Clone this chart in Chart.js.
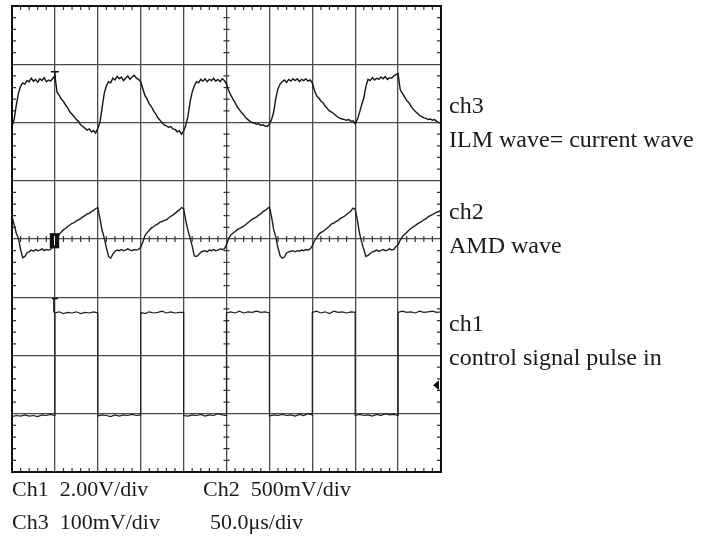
<!DOCTYPE html>
<html>
<head>
<meta charset="utf-8">
<script src="https://cdn.jsdelivr.net/npm/chart.js@4.4.0/dist/chart.umd.min.js"></script>
<style>
body { margin: 0; background: #fff; }
#wrap { position: relative; width: 702px; height: 536px; }
.lbl { position: absolute; font-family: "Liberation Serif", "DejaVu Serif", serif; color: #1a1a1a; white-space: pre; }
.r { font-size: 24px; line-height: 24px; }
.b { font-size: 22px; line-height: 22px; }
</style>
</head>
<body>
<div id="wrap">
  <canvas id="scope" width="702" height="536"></canvas>
  <div class="lbl r" style="left:449px;top:93px">ch3</div>
  <div class="lbl r" style="left:449px;top:127px">ILM wave= current wave</div>
  <div class="lbl r" style="left:449px;top:199px">ch2</div>
  <div class="lbl r" style="left:449px;top:233px">AMD wave</div>
  <div class="lbl r" style="left:449px;top:311px">ch1</div>
  <div class="lbl r" style="left:449px;top:345px">control signal pulse in</div>
  <div class="lbl b" style="left:12px;top:478px">Ch1  2.00V/div</div>
  <div class="lbl b" style="left:203px;top:478px">Ch2  500mV/div</div>
  <div class="lbl b" style="left:12px;top:511px">Ch3  100mV/div</div>
  <div class="lbl b" style="left:210px;top:511px">50.0μs/div</div>
</div>
<script>
// time base in divisions (50 us/div), shared by ch2 and ch3
const timeDiv = [
  0,0.05,0.1,0.15,0.2,0.25,0.3,0.35,0.4,0.45,0.5,0.55,0.6,0.65,0.7,0.75,0.8,0.85,0.9,0.95,
  1,1.05,1.1,1.15,1.2,1.25,1.3,1.35,1.4,1.45,1.5,1.55,1.6,1.65,1.7,1.75,1.8,1.85,1.9,1.95,
  2,2.05,2.1,2.15,2.2,2.25,2.3,2.35,2.4,2.45,2.5,2.55,2.6,2.65,2.7,2.75,2.8,2.85,2.9,2.95,
  3,3.05,3.1,3.15,3.2,3.25,3.3,3.35,3.4,3.45,3.5,3.55,3.6,3.65,3.7,3.75,3.8,3.85,3.9,3.95,
  4,4.05,4.1,4.15,4.2,4.25,4.3,4.35,4.4,4.45,4.5,4.55,4.6,4.65,4.7,4.75,4.8,4.85,4.9,4.95,
  5,5.05,5.1,5.15,5.2,5.25,5.3,5.35,5.4,5.45,5.5,5.55,5.6,5.65,5.7,5.75,5.8,5.85,5.9,5.95,
  6,6.05,6.1,6.15,6.2,6.25,6.3,6.35,6.4,6.45,6.5,6.55,6.6,6.65,6.7,6.75,6.8,6.85,6.9,6.95,
  7,7.05,7.1,7.15,7.2,7.25,7.3,7.35,7.4,7.45,7.5,7.55,7.6,7.65,7.7,7.75,7.8,7.85,7.9,7.95,
  8,8.05,8.1,8.15,8.2,8.25,8.3,8.35,8.4,8.45,8.5,8.55,8.6,8.65,8.7,8.75,8.8,8.85,8.9,8.95,
  9,9.05,9.1,9.15,9.2,9.25,9.3,9.35,9.4,9.45,9.5,9.55,9.6,9.65,9.7,9.75,9.8,9.85,9.9,9.95,
  10
];

// ch3 ILM (current) wave, screen divisions
const ch3Div = [
  1.93,2.05,2.30,2.50,2.62,2.68,2.66,2.72,2.70,2.76,2.71,2.74,2.69,2.75,2.72,2.77,2.70,2.73,2.71,2.76,
  2.80,2.52,2.47,2.40,2.36,2.30,2.25,2.18,2.14,2.10,2.05,2.02,1.96,1.93,1.90,1.87,1.89,1.84,1.86,1.82,
  1.90,2.00,2.25,2.50,2.63,2.70,2.68,2.76,2.73,2.79,2.75,2.78,2.72,2.76,2.80,2.74,2.78,2.81,2.76,2.74,
  2.70,2.58,2.46,2.40,2.32,2.27,2.20,2.15,2.08,2.04,1.99,1.96,1.94,1.92,1.93,1.89,1.88,1.84,1.86,1.80,
  1.85,1.95,2.10,2.35,2.52,2.63,2.70,2.68,2.74,2.71,2.75,2.70,2.74,2.72,2.76,2.71,2.74,2.70,2.75,2.72,
  2.66,2.55,2.47,2.40,2.34,2.27,2.22,2.17,2.13,2.08,2.05,2.02,2.00,1.99,1.97,1.98,1.95,1.96,1.94,1.93,
  1.97,2.05,2.18,2.42,2.58,2.66,2.70,2.73,2.69,2.74,2.71,2.75,2.72,2.75,2.70,2.74,2.72,2.75,2.71,2.73,
  2.68,2.55,2.46,2.42,2.37,2.34,2.28,2.24,2.20,2.18,2.15,2.12,2.09,2.07,2.06,2.05,2.04,2.05,2.02,2.03,
  1.98,2.05,2.17,2.30,2.42,2.62,2.74,2.72,2.77,2.73,2.76,2.74,2.78,2.75,2.79,2.74,2.77,2.76,2.80,2.82,
  2.84,2.56,2.50,2.44,2.38,2.34,2.28,2.23,2.19,2.16,2.12,2.10,2.08,2.07,2.05,2.06,2.04,2.05,2.02,2.00,
  1.98
];

// ch2 AMD wave, screen divisions
const ch2Div = [
  0.38,0.25,0.10,0.01,-0.18,-0.32,-0.30,-0.24,-0.22,-0.19,-0.21,-0.18,-0.20,-0.19,-0.17,-0.20,-0.18,-0.19,-0.18,-0.14,
  -0.08,0.00,0.08,0.12,0.16,0.18,0.22,0.24,0.27,0.28,0.31,0.33,0.35,0.38,0.40,0.43,0.44,0.47,0.49,0.52,
  0.54,0.35,0.15,0.02,-0.15,-0.30,-0.33,-0.26,-0.21,-0.19,-0.20,-0.18,-0.20,-0.19,-0.17,-0.19,-0.20,-0.18,-0.19,-0.18,
  -0.14,-0.05,0.06,0.11,0.15,0.19,0.21,0.24,0.26,0.29,0.30,0.32,0.33,0.36,0.39,0.41,0.44,0.47,0.50,0.54,
  0.52,0.32,0.15,0.02,-0.12,-0.29,-0.30,-0.27,-0.23,-0.21,-0.20,-0.22,-0.19,-0.20,-0.18,-0.20,-0.19,-0.17,-0.18,-0.17,
  -0.10,0.01,0.07,0.10,0.13,0.16,0.18,0.20,0.22,0.25,0.28,0.31,0.34,0.36,0.38,0.41,0.43,0.47,0.49,0.52,
  0.55,0.38,0.16,0.03,-0.15,-0.29,-0.33,-0.31,-0.24,-0.22,-0.21,-0.20,-0.22,-0.20,-0.21,-0.19,-0.20,-0.18,-0.19,-0.17,
  -0.12,-0.03,0.02,0.08,0.11,0.13,0.16,0.19,0.22,0.26,0.27,0.30,0.32,0.35,0.37,0.39,0.42,0.45,0.48,0.53,
  0.51,0.33,0.10,-0.05,-0.18,-0.30,-0.28,-0.25,-0.22,-0.21,-0.19,-0.21,-0.20,-0.18,-0.20,-0.19,-0.17,-0.19,-0.18,-0.13,
  -0.10,-0.02,0.04,0.08,0.11,0.15,0.18,0.21,0.23,0.26,0.28,0.30,0.33,0.35,0.38,0.40,0.42,0.44,0.46,0.47,
  0.50
];

// ch1 control pulse: own time base, each edge listed twice
const ch1Time = [
  0,0.1,0.2,0.3,0.4,0.5,0.6,0.7,0.8,0.9,1,
  1,1.1,1.2,1.3,1.4,1.5,1.6,1.7,1.8,1.9,2,
  2,2.1,2.2,2.3,2.4,2.5,2.6,2.7,2.8,2.9,3,
  3,3.1,3.2,3.3,3.4,3.5,3.6,3.7,3.8,3.9,4,
  4,4.1,4.2,4.3,4.4,4.5,4.6,4.7,4.8,4.9,5,
  5,5.1,5.2,5.3,5.4,5.5,5.6,5.7,5.8,5.9,6,
  6,6.1,6.2,6.3,6.4,6.5,6.6,6.7,6.8,6.9,7,
  7,7.1,7.2,7.3,7.4,7.5,7.6,7.7,7.8,7.9,8,
  8,8.1,8.2,8.3,8.4,8.5,8.6,8.7,8.8,8.9,9,
  9,9.1,9.2,9.3,9.4,9.5,9.6,9.7,9.8,9.9,10
];
const ch1Div = [
  -3.05,-3.03,-3.04,-3.02,-3.04,-3.03,-3.05,-3.02,-3.03,-3.01,-3.03,
  -1.27,-1.25,-1.28,-1.26,-1.27,-1.25,-1.28,-1.26,-1.27,-1.25,-1.27,
  -3.04,-3.02,-3.03,-3.05,-3.02,-3.04,-3.02,-3.03,-3.01,-3.03,-3.02,
  -1.26,-1.28,-1.25,-1.27,-1.26,-1.24,-1.27,-1.25,-1.27,-1.26,-1.26,
  -3.03,-3.04,-3.02,-3.03,-3.01,-3.04,-3.02,-3.03,-3.00,-3.02,-3.03,
  -1.27,-1.25,-1.27,-1.24,-1.27,-1.25,-1.26,-1.24,-1.26,-1.25,-1.27,
  -3.04,-3.02,-3.03,-3.01,-3.03,-3.02,-3.04,-3.01,-3.03,-3.00,-3.02,
  -1.26,-1.24,-1.27,-1.25,-1.28,-1.24,-1.26,-1.25,-1.27,-1.25,-1.26,
  -3.03,-3.01,-3.03,-3.02,-3.04,-3.01,-3.03,-3.00,-3.02,-3.01,-3.03,
  -1.26,-1.24,-1.26,-1.25,-1.27,-1.24,-1.26,-1.25,-1.24,-1.26,-1.25
];

function pairs(ts, vs) {
  return ts.map((t, i) => ({ x: t, y: vs[i] }));
}

// graticule extras: minor ticks, frame, scope markers
const scopeDecor = {
  id: 'scopeDecor',
  beforeDatasetsDraw(chart) {
    const { ctx, chartArea: a, scales: { x, y } } = chart;
    const cx = x.getPixelForValue(5);
    const cy = y.getPixelForValue(0);
    ctx.save();
    ctx.strokeStyle = '#333';
    ctx.lineWidth = 1.2;
    ctx.beginPath();
    for (let i = 1; i < 50; i++) {
      if (i % 5 === 0) continue;
      const px = x.getPixelForValue(i / 5);
      ctx.moveTo(px, a.top); ctx.lineTo(px, a.top + 4);
      ctx.moveTo(px, a.bottom - 4); ctx.lineTo(px, a.bottom);
      ctx.moveTo(px, cy - 3); ctx.lineTo(px, cy + 3);
    }
    for (let i = 1; i < 40; i++) {
      if (i % 5 === 0) continue;
      const py = y.getPixelForValue(-4 + i / 5);
      ctx.moveTo(a.left, py); ctx.lineTo(a.left + 4, py);
      ctx.moveTo(a.right - 4, py); ctx.lineTo(a.right, py);
      ctx.moveTo(cx - 3, py); ctx.lineTo(cx + 3, py);
    }
    ctx.stroke();
    ctx.restore();
  },
  afterDatasetsDraw(chart) {
    const { ctx, chartArea: a, scales: { x, y } } = chart;
    ctx.save();
    ctx.strokeStyle = '#111';
    ctx.lineWidth = 2;
    ctx.strokeRect(a.left, a.top, a.right - a.left, a.bottom - a.top);

    // trigger "T" marks on ch3 and ch1
    ctx.lineWidth = 1.5;
    ctx.beginPath();
    const tx = x.getPixelForValue(1);
    ctx.moveTo(tx - 4, y.getPixelForValue(2.87)); ctx.lineTo(tx + 4, y.getPixelForValue(2.87));
    ctx.moveTo(tx, y.getPixelForValue(2.87)); ctx.lineTo(tx, y.getPixelForValue(2.72));
    ctx.moveTo(tx - 3, y.getPixelForValue(-1.02)); ctx.lineTo(tx + 3, y.getPixelForValue(-1.02));
    ctx.moveTo(tx - 1, y.getPixelForValue(-1.02)); ctx.lineTo(tx - 1, y.getPixelForValue(-1.26));
    ctx.stroke();

    // ch2 ground marker box
    const bx0 = x.getPixelForValue(0.88), bx1 = x.getPixelForValue(1.1);
    const by0 = y.getPixelForValue(0.1), by1 = y.getPixelForValue(-0.16);
    ctx.fillStyle = '#111';
    ctx.fillRect(bx0, by0, bx1 - bx0, by1 - by0);
    ctx.strokeStyle = '#fff';
    ctx.lineWidth = 1;
    ctx.beginPath();
    ctx.moveTo((bx0 + bx1) / 2, by0 + 3); ctx.lineTo((bx0 + bx1) / 2, by1 - 3);
    ctx.stroke();

    // trigger level arrow at right edge
    const ay = y.getPixelForValue(-2.51);
    ctx.fillStyle = '#111';
    ctx.beginPath();
    ctx.moveTo(a.right - 8, ay);
    ctx.lineTo(a.right - 2, ay - 5);
    ctx.lineTo(a.right - 2, ay + 5);
    ctx.closePath();
    ctx.fill();
    ctx.restore();
  }
};

const traceStyle = { borderWidth: 1.4, pointRadius: 0, tension: 0, fill: false };

const config = {
  type: 'line',
  data: {
    datasets: [
      Object.assign({ label: 'ch3', data: pairs(timeDiv, ch3Div), borderColor: '#141414' }, traceStyle),
      Object.assign({ label: 'ch2', data: pairs(timeDiv, ch2Div), borderColor: '#1e1e1e' }, traceStyle),
      Object.assign({ label: 'ch1', data: pairs(ch1Time, ch1Div), borderColor: '#1e1e1e' }, traceStyle, { borderWidth: 1.2 })
    ]
  },
  options: {
    responsive: false,
    animation: false,
    layout: { padding: { left: 12, top: 6, right: 261, bottom: 64 } },
    plugins: { legend: { display: false }, tooltip: { enabled: false } },
    scales: {
      x: {
        type: 'linear', min: 0, max: 10,
        ticks: { stepSize: 1, display: false },
        grid: { color: '#4a4a4a', lineWidth: 1.3, drawTicks: false },
        border: { display: false }
      },
      y: {
        type: 'linear', min: -4, max: 4,
        ticks: { stepSize: 1, display: false },
        grid: { color: '#4a4a4a', lineWidth: 1.3, drawTicks: false },
        border: { display: false }
      }
    }
  },
  plugins: [scopeDecor]
};

const scopeChart = new Chart(document.getElementById('scope'), config);
</script>
</body>
</html>
